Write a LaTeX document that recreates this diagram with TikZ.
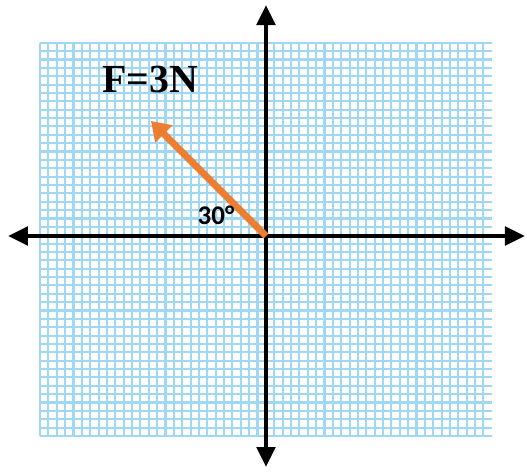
\documentclass[tikz,border=0pt]{standalone}
\usepackage{fontspec}
\setmainfont{Liberation Serif}
\newfontfamily\anglefont{Carlito}
\usetikzlibrary{arrows.meta}
\definecolor{gridblue}{RGB}{160,216,244}
\definecolor{forceorange}{RGB}{237,125,49}
\begin{document}
\begin{tikzpicture}[
    gridline/.style={gridblue, line width=1.8pt},
    axis/.style={-{Triangle[length=0.6cm,width=0.55cm]}, line width=3.4pt, black},
    force/.style={-{Triangle[length=0.55cm,width=0.7cm]}, line width=6pt, forceorange},
    forcelabel/.style={font=\fontsize{34}{34}\selectfont\bfseries, text=black},
    anglelabel/.style={font=\anglefont\fontsize{23}{23}\selectfont\bfseries, text=black},
]
% page frame
\useasboundingbox (-7.98,-7.05) rectangle (7.83,7.08);
% grid paper
\begin{scope}[shift={(-6.78,-6.0)}]
\draw[gridline, step=0.251] (0,0) grid (13.554,11.797);
\end{scope}
% axes
\coordinate (O) at (0,0);
\coordinate (xmin) at (-7.74,0);
\coordinate (xmax) at (7.77,0);
\coordinate (ymin) at (0,-6.93);
\coordinate (ymax) at (0,6.93);
\draw[axis] (O) -- (xmax);
\draw[axis] (O) -- (xmin);
\draw[axis] (O) -- (ymax);
\draw[axis] (O) -- (ymin);
% force vector
\coordinate (Ftip) at (135:4.88);
\draw[force] (O) -- (Ftip);
% labels
\node[forcelabel] (Fname) at (-3.48,4.68) {F=3N};
\node[anglelabel] (angle) at (-1.5,0.63) {30°};
\end{tikzpicture}
\end{document}
